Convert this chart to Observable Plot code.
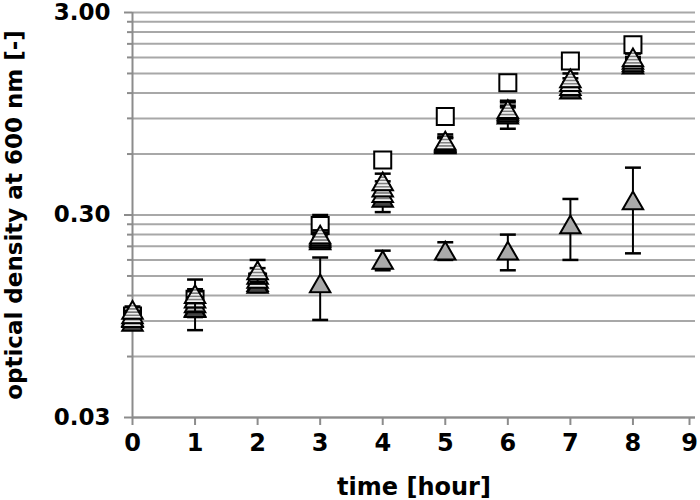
<!DOCTYPE html>
<html>
<head>
<meta charset="utf-8">
<script src="https://cdn.jsdelivr.net/npm/d3@7"></script>
<script src="https://cdn.jsdelivr.net/npm/@observablehq/plot@0.6"></script>
<style>
  body { margin: 0; background: white; }
</style>
</head>
<body>
<svg width="0" height="0" style="position:absolute">
  <defs>
    <pattern id="stripes" patternUnits="userSpaceOnUse" width="4" height="3.2">
      <rect width="4" height="3.2" fill="#f0f0f0"></rect>
      <rect y="1.7" width="4" height="1.5" fill="#777777"></rect>
    </pattern>
  </defs>
</svg>
<div id="chart"></div>
<script>
// ---- data ----
const times = [0, 1, 2, 3, 4, 5, 6, 7, 8];
const xTicks = [0, 1, 2, 3, 4, 5, 6, 7, 8];
const xLastTick = [9];
const majorTicks = [0.03, 0.3, 3];
const minorTicks = [0.06, 0.09, 0.12, 0.15, 0.18, 0.21, 0.24, 0.27,
                    0.6, 0.9, 1.2, 1.5, 1.8, 2.1, 2.4, 2.7];

const plateau      = [0.094, 0.105, 0.140, 0.138, 0.180, 0.200, 0.200, 0.270, 0.354];
const plateauErr   = [0.004, 0.024, 0.010, 0.047, 0.020, 0.020, 0.040, 0.090, 0.160];

const openSquare    = [0.095, 0.115, 0.140, 0.266, 0.560, 0.920, 1.350, 1.730, 2.080];
const openSquareErr = [0.005, 0.010, 0.010, 0.034, 0.030, 0.040, 0.050, 0.050, 0.060];

const triDark       = [0.089, 0.104, 0.137, 0.225, 0.365, 0.670, 0.940, 1.250, 1.660];
const triDarkErr    = [0.005, 0.010, 0.012, 0.020, 0.055, 0.050, 0.140, 0.100, 0.100];

const triStripe1    = [0.093, 0.110, 0.145, 0.230, 0.385, 0.680, 0.960, 1.300, 1.700];
const triStripe1Err = [0.004, 0.008, 0.010, 0.010, 0.030, 0.040, 0.060, 0.060, 0.060];

const triStripe2    = [0.097, 0.116, 0.152, 0.235, 0.410, 0.690, 0.980, 1.360, 1.750];
const triStripe2Err = [0.004, 0.010, 0.012, 0.010, 0.030, 0.040, 0.060, 0.060, 0.060];

const triStripe3    = [0.102, 0.122, 0.160, 0.240, 0.440, 0.700, 1.000, 1.420, 1.800];
const triStripe3Err = [0.004, 0.022, 0.020, 0.012, 0.040, 0.050, 0.100, 0.080, 0.080];

// ---- helpers ----
const capSymbol = {
  draw(context, size) {
    const w = Math.sqrt(size);
    context.moveTo(-w / 2, 0);
    context.lineTo(w / 2, 0);
  }
};

function seriesMarks(vals, errs, symbol, fill, r, dy) {
  const rows = times.map((t, i) => ({t, v: vals[i], lo: vals[i] - errs[i], hi: vals[i] + errs[i]}));
  return [
    Plot.ruleX(rows, {x: "t", y1: "lo", y2: "hi", stroke: "black", strokeWidth: 2}),
    Plot.dot(rows, {x: "t", y: "hi", symbol: capSymbol, r: 9, stroke: "black", strokeWidth: 2.5, fill: "none"}),
    Plot.dot(rows, {x: "t", y: "lo", symbol: capSymbol, r: 9, stroke: "black", strokeWidth: 2.5, fill: "none"}),
    Plot.dot(rows, {x: "t", y: "v", symbol, r, fill, stroke: "black", strokeWidth: 2, dy})
  ];
}

const gray = "#8c8c8c";
const fontSize = 24;

const chart = Plot.plot({
  width: 700,
  height: 500,
  marginLeft: 132,
  marginRight: 5,
  marginTop: 12,
  marginBottom: 83,
  style: {fontFamily: "'DejaVu Sans', sans-serif", fontWeight: "bold", fontSize: "24px", color: "black", background: "white"},
  x: {domain: [0, 9]},
  y: {type: "log", domain: [0.03, 3]},
  marks: [
    Plot.ruleY(minorTicks.concat(majorTicks), {stroke: "#a8a8a8", strokeWidth: 2}),
    Plot.axisY(minorTicks, {tickSize: 5, tickFormat: () => "", stroke: gray, strokeWidth: 2, label: null}),
    Plot.axisY(majorTicks, {tickSize: 8, tickPadding: 14, tickFormat: d3.format(".2f"), stroke: gray, strokeWidth: 2,
      fontSize: 23, fontWeight: "bold",
      label: "optical density at 600 nm [-]", labelAnchor: "center", labelOffset: 127, labelArrow: "none"}),
    Plot.axisX(xTicks, {tickSize: 8, tickPadding: 8, tickFormat: d3.format("d"), stroke: gray, strokeWidth: 2,
      fontSize, fontWeight: "bold",
      label: "time [hour]", labelAnchor: "center", labelOffset: 77, labelArrow: "none"}),
    Plot.axisX(xLastTick, {tickSize: 8, tickPadding: 8, tickFormat: d3.format("d"), stroke: gray, strokeWidth: 2,
      fontSize, fontWeight: "bold", dx: -6, label: null}),
    Plot.ruleX([0], {stroke: gray, strokeWidth: 2}),
    Plot.ruleY([0.03], {stroke: gray, strokeWidth: 2}),
    ...seriesMarks(plateau, plateauErr, "triangle", "#a9a9a9", 7.6, 3),
    ...seriesMarks(openSquare, openSquareErr, "square", "white", 9.6, 0),
    ...seriesMarks(triDark, triDarkErr, "triangle", "#444444", 7.6, 3),
    ...seriesMarks(triStripe1, triStripe1Err, "triangle", "url(#stripes)", 7.6, 3),
    ...seriesMarks(triStripe2, triStripe2Err, "triangle", "url(#stripes)", 7.6, 3),
    ...seriesMarks(triStripe3, triStripe3Err, "triangle", "url(#stripes)", 7.6, 3)
  ]
});
document.getElementById("chart").appendChild(chart);
</script>
</body>
</html>
